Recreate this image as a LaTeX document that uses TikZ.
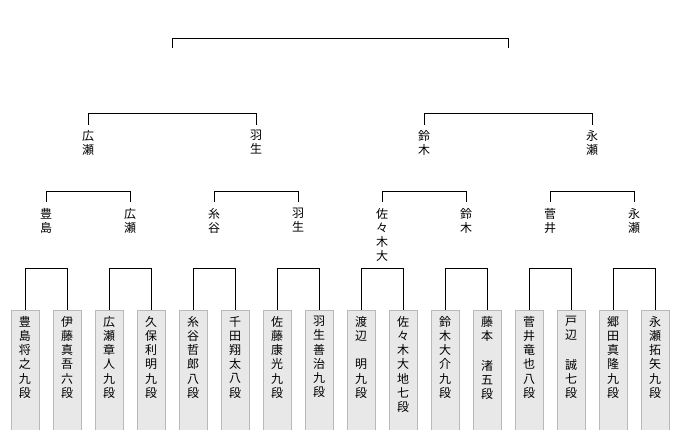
\documentclass[tikz,border=0pt]{standalone}
\usepackage{fontspec}
\newfontfamily\jp{Noto Sans CJK JP}
\begin{document}
\begin{tikzpicture}[x=1pt,y=-1pt,
  br/.style={draw=black,line width=0.8pt},
  vt/.style={anchor=north,inner sep=0pt,align=center,font=\jp\fontsize{12}{14.2}\selectfont},
  leafbox/.style={draw=gray!55,fill=gray!18,line width=0.6pt}]
\useasboundingbox (0,0) rectangle (680,430);
% top
\coordinate (t1) at (172,48); \coordinate (t2) at (508,48);
\draw[br] (t1) -- (172,38) -- (508,38) -- (t2);
% round 3
\foreach \a/\b [count=\k] in {88/256,424/592}{
  \coordinate (s\k a) at (\a,125); \coordinate (s\k b) at (\b,125);
  \draw[br] (s\k a) -- (\a,113) -- (\b,113) -- (s\k b);}
\node[vt] (q1) at (88,130) {広\\瀬};
\node[vt] (q2) at (256,130) {羽\\生};
\node[vt] (q3) at (424,130) {鈴\\木};
\node[vt] (q4) at (592,130) {永\\瀬};
% round 2
\foreach \a/\b [count=\k] in {46/130,214/298,382/466,550/634}{
  \coordinate (r\k a) at (\a,202); \coordinate (r\k b) at (\b,202);
  \draw[br] (r\k a) -- (\a,191) -- (\b,191) -- (r\k b);}
\node[vt] (p1) at (46,208) {豊\\島};
\node[vt] (p2) at (130,208) {広\\瀬};
\node[vt] (p3) at (214,208) {糸\\谷};
\node[vt] (p4) at (298,208) {羽\\生};
\node[vt] (p5) at (382,208) {佐\\々\\木\\大};
\node[vt] (p6) at (466,208) {鈴\\木};
\node[vt] (p7) at (550,208) {菅\\井};
\node[vt] (p8) at (634,208) {永\\瀬};
% leaves
\foreach \n [count=\i from 0] in {
 {豊\\島\\将\\之\\九\\段},{伊\\藤\\真\\吾\\六\\段},{広\\瀬\\章\\人\\九\\段},{久\\保\\利\\明\\九\\段},
 {糸\\谷\\哲\\郎\\八\\段},{千\\田\\翔\\太\\八\\段},{佐\\藤\\康\\光\\九\\段},{羽\\生\\善\\治\\九\\段},
 {渡\\辺\\\strut\\明\\九\\段},{佐\\々\\木\\大\\地\\七\\段},{鈴\\木\\大\\介\\九\\段},{藤\\本\\\strut\\渚\\五\\段},
 {菅\\井\\竜\\也\\八\\段},{戸\\辺\\\strut\\誠\\七\\段},{郷\\田\\真\\隆\\九\\段},{永\\瀬\\拓\\矢\\九\\段}}{
  \pgfmathsetmacro\c{25+42*\i}
  \draw[leafbox] (\c-14,310) rectangle (\c+14,432);
  \node[vt] (l\i) at (\c,316) {\n};}
\foreach \i in {0,2,...,14}{
  \pgfmathsetmacro\c{25+42*\i}\pgfmathsetmacro\d{\c+42}
  \draw[br] (\c,310) -- (\c,268) -- (\d,268) -- (\d,310);}
\end{tikzpicture}
\end{document}
